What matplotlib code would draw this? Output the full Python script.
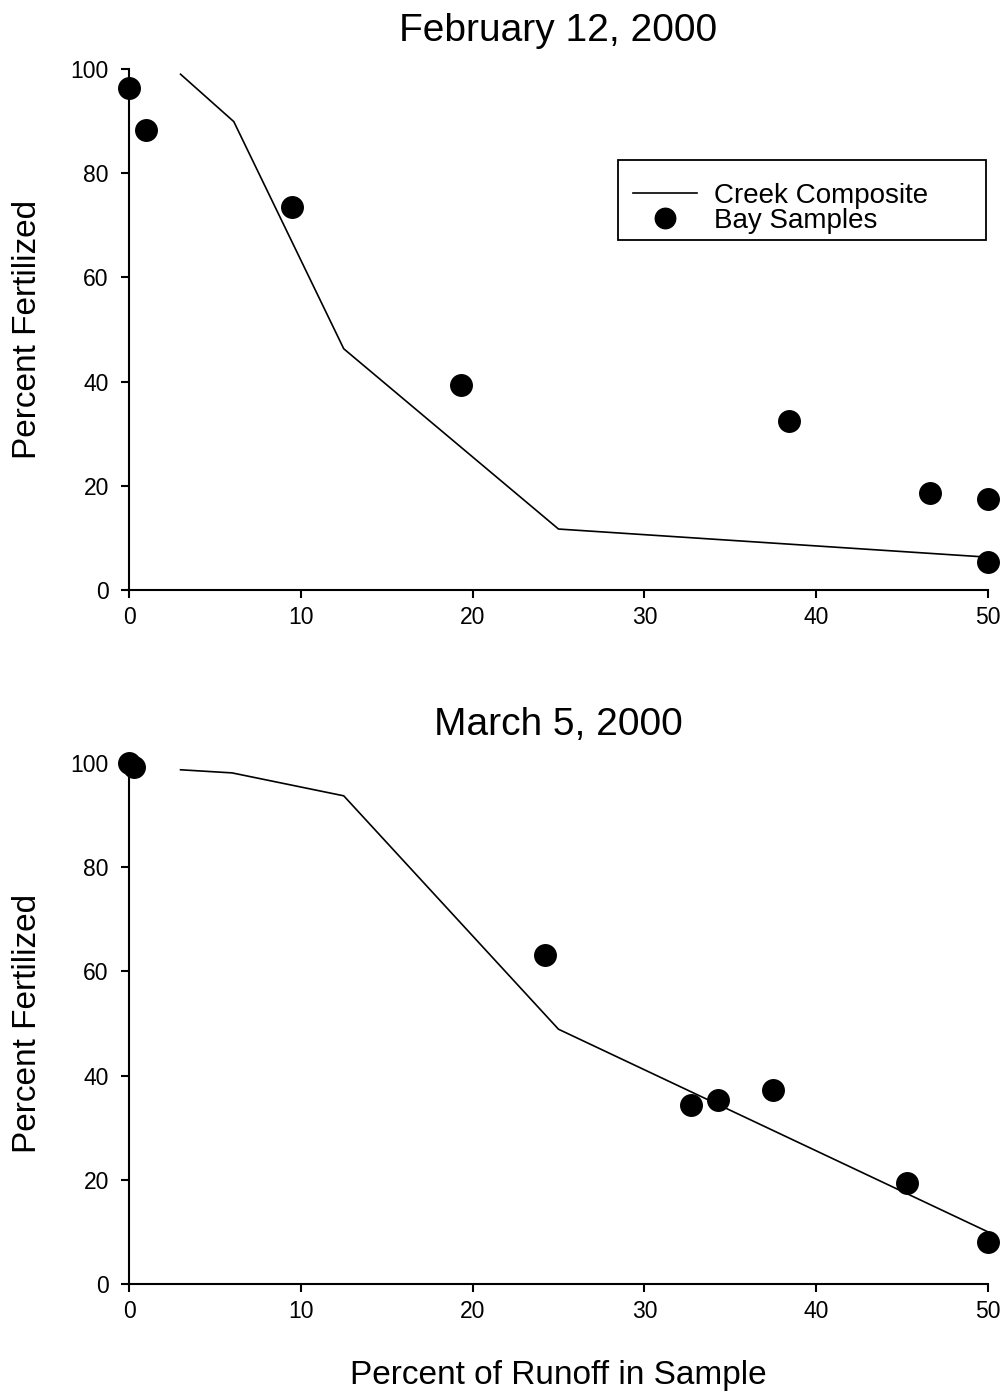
import matplotlib
matplotlib.use("Agg")
import matplotlib.pyplot as plt
from matplotlib.patches import Rectangle

plt.rcParams['font.family'] = ['Liberation Sans', 'DejaVu Sans']

# Panel 1: February 12, 2000
feb_creek_x = [3.0, 6.1, 12.5, 25.0, 50.0]
feb_creek_y = [99.0, 89.9, 46.3, 11.7, 6.3]
feb_bay_x = [0.0, 1.0, 9.5, 19.3, 38.4, 46.6, 50.0, 50.0]
feb_bay_y = [96.4, 88.3, 73.5, 39.3, 32.5, 18.6, 17.5, 5.4]

# Panel 2: March 5, 2000
mar_creek_x = [3.0, 6.0, 12.5, 25.0, 50.0]
mar_creek_y = [98.7, 98.1, 93.7, 48.9, 10.0]
mar_bay_x = [0.0, 0.3, 24.2, 32.7, 34.3, 37.5, 45.3, 50.0]
mar_bay_y = [100.0, 99.2, 63.1, 34.4, 35.3, 37.2, 19.3, 8.1]

titles = ["February 12, 2000", "March 5, 2000"]
xticks = [0, 10, 20, 30, 40, 50]
yticks = [0, 20, 40, 60, 80, 100]

W, H = 1007, 1395
fig = plt.figure(figsize=(W / 100, H / 100), dpi=100)

def make_ax(top_px, bottom_px):
    left, right = 129, 988
    return fig.add_axes([left / W, 1 - bottom_px / H, (right - left) / W, (bottom_px - top_px) / H])

ax1 = make_ax(69, 590)
ax2 = make_ax(763, 1284)

panels = [
    (ax1, feb_creek_x, feb_creek_y, feb_bay_x, feb_bay_y, titles[0]),
    (ax2, mar_creek_x, mar_creek_y, mar_bay_x, mar_bay_y, titles[1]),
]

for ax, cx, cy, bx, by, title in panels:
    ax.plot(cx, cy, color='black', lw=1.2, label='Creek Composite', clip_on=False)
    ax.plot(bx, by, 'o', color='black', ms=15.5, label='Bay Samples', clip_on=False, zorder=5)
    ax.set_xlim(0, 50)
    ax.set_ylim(0, 100)
    ax.set_xticks(xticks)
    ax.set_yticks(yticks)
    for s in ['top', 'right']:
        ax.spines[s].set_visible(False)
    for s in ['left', 'bottom']:
        ax.spines[s].set_linewidth(1.5)
    ax.tick_params(direction='out', length=6, width=1.5, labelsize=16.5, pad=8.5)
    ax.tick_params(axis='x', pad=5.5)
    ax.set_title(title, fontsize=28, pad=20)
    ax.set_ylabel('Percent Fertilized', fontsize=24, labelpad=20)

ax2.set_xlabel('Percent of Runoff in Sample', fontsize=24, labelpad=27)

# legend box
fig.patches.append(Rectangle((618 / W, 1 - 240 / H), (986 - 618) / W, 80 / H,
                             transform=fig.transFigure, fill=False, edgecolor='black',
                             linewidth=1.3, zorder=10))
ax1.legend(loc='upper left', bbox_to_anchor=(633 / W, 1 - 183 / H),
           bbox_transform=fig.transFigure, fontsize=20, frameon=False,
           borderpad=0, labelspacing=-0.05, handlelength=2.3, handletextpad=0.6,
           markerscale=0.95, borderaxespad=0)

fig.savefig('out.png', dpi=100)
